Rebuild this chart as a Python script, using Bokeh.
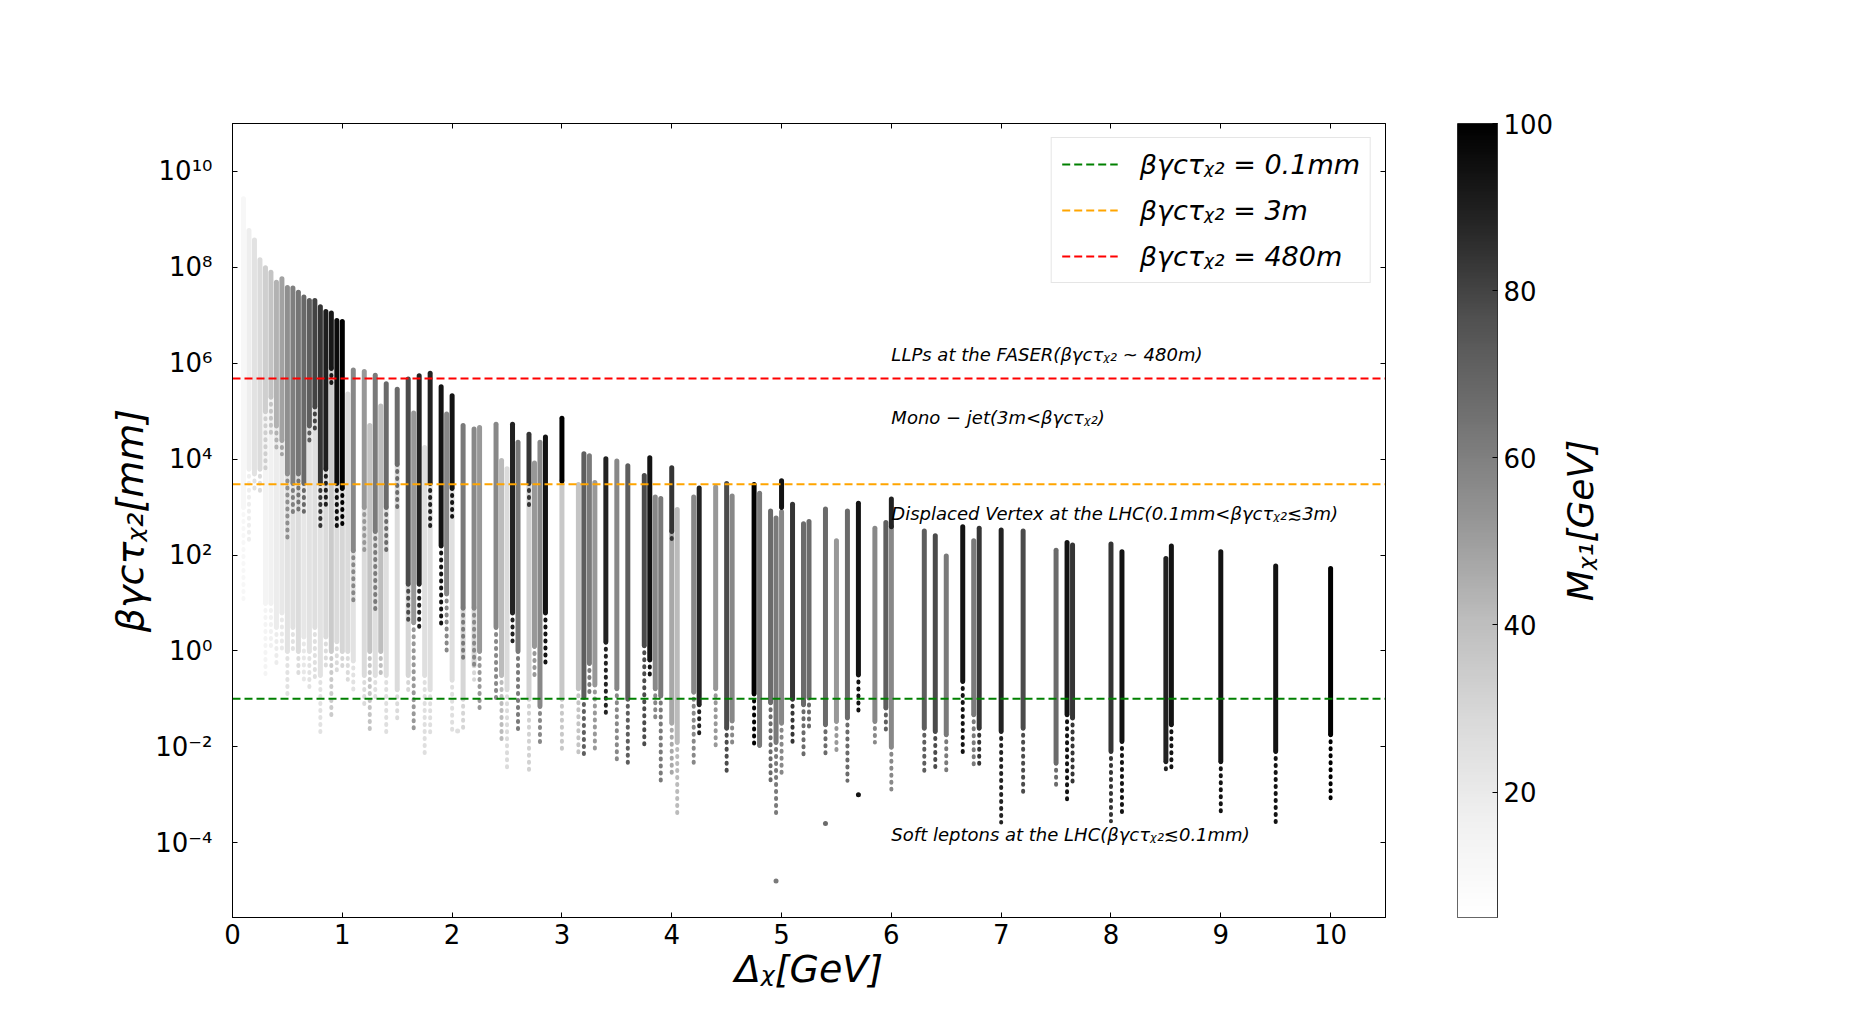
import math
import numpy as np
import pandas as pd
from bokeh.plotting import figure
from bokeh.layouts import row
from bokeh.models import (ColumnDataSource, LinearColorMapper, FixedTicker,
                          LinearAxis, LogAxis, CustomJSTickFormatter)
from bokeh.core.properties import value
from bokeh.palettes import Greys9
from bokeh.embed import file_html
from bokeh.resources import INLINE

# ---------------- data ----------------
# each entry: a column of points at one Δχ, dense from col_top to col_mid,
# sparse tail from col_mid to col_bot (log10 of βγcτ in mm), coloured by M_χ1
col_x = [0.10, 0.15, 0.20, 0.25, 0.30, 0.35, 0.40, 0.45, 0.50, 0.55, 0.60, 0.65, 0.70, 0.75, 0.80, 0.85, 0.90, 0.95, 1.00,
         0.30, 0.35, 0.40, 0.45, 0.50, 0.55, 0.60, 0.65, 0.70, 0.75, 0.80, 0.85, 0.90, 0.95, 1.00,
         1.05, 1.10, 1.10, 1.20, 1.20, 1.25, 1.30, 1.30, 1.35, 1.40, 1.40, 1.50, 1.50, 1.60, 1.60, 1.65, 1.70, 1.75,
         1.80, 1.80, 1.90, 1.95, 2.00, 2.00, 2.10, 2.10, 2.20, 2.20, 2.25, 2.40, 2.45, 2.50, 2.55, 2.60, 2.70, 2.70,
         2.75, 2.80, 2.85, 3.00, 3.00,
         3.15, 3.20, 3.25, 3.30, 3.40, 3.50, 3.60, 3.75, 3.80, 3.85, 3.90, 4.00, 4.00, 4.05, 4.20, 4.25, 4.40, 4.50,
         4.55, 4.75, 4.80, 4.90, 4.95, 5.00, 5.00, 5.10, 5.20, 5.25, 5.40, 5.50, 5.60, 5.70, 5.85, 5.95, 6.00, 6.00,
         6.30, 6.40, 6.50, 6.65, 6.75, 6.80, 7.00, 7.20, 7.50, 7.60, 7.65, 8.00, 8.10, 8.50, 8.55, 9.00, 9.50, 10.00]
col_top = [9.43, 8.77, 8.57, 8.16, 7.99, 7.90, 7.69, 7.76, 7.58, 7.57, 7.48, 7.38, 7.31, 7.31, 7.18, 7.08, 7.05, 6.89, 6.87,
           5.0, 5.3, 4.7, 4.4, 3.7, 3.5, 3.7, 3.5, 4.7, 5.1, 3.5, 3.8, 5.9, 3.5, 3.4,
           5.36, 5.86, 2.1, 5.83, 3.0, 4.70, 5.75, 2.5, 5.11, 5.57, 3.0, 5.46, 3.9, 5.67, 1.4, 4.96, 5.74, 4.24,
           5.79, 3.5, 5.51, 4.94, 5.32, 3.4, 4.70, 0.9, 4.63, 0.9, 4.66, 4.73, 3.97, 3.80, 4.73, 4.35, 4.52, 3.5,
           3.92, 4.35, 4.46, 4.85, 3.55,
           3.47, 4.11, 4.07, 3.51, 4.01, 3.96, 3.86, 3.66, 4.03, 3.21, 3.18, 3.82, 2.5, 2.95, 3.21, 3.40, 3.42, 3.49,
           3.23, 3.47, 3.29, 2.92, 2.77, 3.55, 2.9, 3.06, 2.65, 2.70, 2.96, 2.30, 2.92, 3.08, 2.56, 2.68, 3.17, 2.6,
           2.50, 2.40, 1.98, 2.59, 2.30, 2.56, 2.52, 2.50, 2.10, 2.26, 2.21, 2.23, 2.07, 1.93, 2.19, 2.07, 1.77, 1.72]
col_mid = [3.0, 3.8, 3.7, 3.8, 5.0, 5.3, 4.7, 4.4, 3.7, 3.5, 3.7, 3.5, 4.7, 5.1, 3.5, 3.8, 5.9, 3.5, 3.4,
           1.0, 1.0, 0.5, 0.8, 0.0, 0.5, 0.0, 0.3, 0.0, 0.5, -0.5, 0.3, 0.0, 0.2, 0.0,
           0.0, 2.1, -0.2, 3.0, -0.5, 0.0, 2.5, -0.5, 0.0, 3.0, -0.5, 3.9, -0.8, 1.4, -0.5, 0.6, 1.4, -0.5,
           3.5, -0.8, 2.2, 1.2, 3.4, -0.6, 0.9, -1.0, 0.9, -0.3, 0.0, 0.5, -0.5, -0.8, 0.8, 0.0, 3.5, -1.0,
           0.1, -1.15, 0.8, 3.55, -1.0,
           -0.78, -0.96, -0.25, -0.70, 0.19, -0.78, -1.0, 0.12, -0.18, -0.78, -0.93, 2.5, -1.5, -1.9, -0.85, -1.11, -0.78, -1.6,
           -1.45, -0.89, -1.96, -1.07, -1.9, 3.0, -1.5, -1.0, -1.11, -0.97, -1.53, -1.46, -1.39, -0.49, -1.46, -1.18, 2.6, -2.0,
           -1.6, -1.67, -1.74, -0.63, -1.32, -1.60, -1.67, -1.60, -2.33, -1.32, -1.39, -2.09, -1.88, -2.30, -1.53, -2.30, -2.09, -1.74]
col_bot = [1.0, 2.3, 3.3, 3.3, 3.7, 4.5, 4.2, 4.1, 2.3, 2.8, 2.9, 2.9, 4.3, 4.6, 2.5, 3.0, 5.5, 2.6, 2.6,
           -0.5, 0.0, -0.3, 0.0, -0.9, 0.0, -0.5, -0.6, -0.8, -0.6, -1.8, -0.4, -1.4, -0.5, -0.4,
           -0.6, 1.0, -0.9, 2.0, -1.2, -1.75, 0.8, -1.0, -0.5, 2.0, -1.7, 3.0, -1.5, 0.6, -0.9, -1.67, 0.5, -2.2,
           2.5, -1.8, 0.5, 0.0, 2.8, -1.7, -0.2, -1.7, -0.3, -0.6, -1.25, -1.0, -1.9, -2.45, 0.2, -1.67, 3.0, -2.6,
           -0.6, -2.0, -0.25, 3.5, -2.1,
           -2.23, -2.2, -0.92, -2.08, -1.37, -2.34, -2.4, -2.0, -0.55, -1.45, -2.79, 2.3, -2.6, -3.46, -2.34, -1.82, -2.08, -2.6,
           -2.0, -2.04, -2.0, -2.71, -3.4, 2.9, -2.64, -1.93, -2.26, -1.67, -2.16, -2.09, -2.71, -1.25, -1.91, -1.70, 2.5, -2.89,
           -2.54, -2.54, -2.54, -2.12, -2.40, -2.37, -3.58, -3.03, -2.82, -3.13, -2.82, -3.55, -3.41, -2.57, -2.51, -3.41, -3.69, -3.15]
col_mass = [12, 18, 24, 28, 33, 38, 44, 49, 55, 60, 64, 68, 72, 80, 84, 90, 92, 96, 100,
            14, 16, 19, 21, 24, 25, 27, 22, 24, 26, 24, 28, 35, 28, 30,
            28, 57, 24, 52, 28, 38, 62, 26, 40, 67, 26, 67, 28, 78, 30, 52, 89, 26,
            89, 26, 94, 57, 94, 26, 62, 30, 57, 30, 52, 57, 41, 28, 89, 62, 84, 32,
            52, 57, 94, 100, 36,
            38, 72, 62, 52, 89, 57, 72, 78, 94, 57, 62, 84, 47, 41, 57, 89, 52, 78,
            57, 100, 62, 67, 62, 94, 57, 84, 67, 67, 67, 52, 67, 94, 57, 72, 89, 57,
            72, 78, 62, 94, 62, 84, 89, 78, 67, 94, 84, 84, 94, 89, 94, 94, 94, 100]

# isolated points far below their columns
out_x = [4.95, 5.40, 5.70, 2.05]
out_logy = [-4.80, -3.60, -3.00, -1.67]
out_mass = [62, 67, 94, 26]

# threshold lines (mm) and their legend texts
thr_values = [0.1, 3000.0, 480000.0]
thr_colors = ["green", "orange", "red"]
thr_labels = ["βγcτᵪ₂ = 0.1mm", "βγcτᵪ₂ = 3m", "βγcτᵪ₂ = 480m"]

# region notes
note_x = [6.0, 6.0, 6.0, 6.0]
note_y = [1e6, 5e4, 500.0, 1e-4]
note_text = ["LLPs at the FASER(βγcτᵪ₂ ~ 480m)",
             "Mono − jet(3m<βγcτᵪ₂)",
             "Displaced Vertex at the LHC(0.1mm<βγcτᵪ₂≲3m)",
             "Soft leptons at the LHC(βγcτᵪ₂≲0.1mm)"]

x_ticks = [0, 1, 2, 3, 4, 5, 6, 7, 8, 9, 10]
y_tick_exps = [-4, -2, 0, 2, 4, 6, 8, 10]
cbar_ticks = [20, 40, 60, 80, 100]
mass_low, mass_high = 5.0, 100.0
x_lo, x_hi = 0.0, 10.5
y_lo_exp, y_hi_exp = -5.56, 11.0

# ---------------- palette (matplotlib-like Greys) ----------------
def build_palette(anchors, n):
    rgb = [tuple(int(a[i:i + 2], 16) for i in (1, 3, 5)) for a in anchors]
    out = []
    for k in range(n):
        t = k / (n - 1) * (len(rgb) - 1)
        j = min(int(t), len(rgb) - 2)
        f = t - j
        c = [round(rgb[j][m] + (rgb[j + 1][m] - rgb[j][m]) * f) for m in range(3)]
        out.append("#%02x%02x%02x" % tuple(c))
    return out

palette = build_palette(list(reversed(Greys9)), 256)
mapper = LinearColorMapper(palette=palette, low=mass_low, high=mass_high)

df = pd.DataFrame(dict(x=col_x, top=col_top, mid=col_mid, bot=col_bot, mass=col_mass))
df = df.sort_values("mass", kind="stable").reset_index(drop=True)
df["y_top"] = 10.0 ** df["top"]
df["y_mid"] = 10.0 ** df["mid"]
df["y_bot"] = 10.0 ** df["bot"]
src = ColumnDataSource(df)

out_src = ColumnDataSource(dict(x=out_x, y=[10.0 ** v for v in out_logy], mass=out_mass))

FONT = "DejaVu Sans"
FRAME_L, FRAME_T, FRAME_W, FRAME_H = 232, 123, 1153, 794
CANVAS_H = 1010
CB_GAP, CB_W = 72, 40

p = figure(x_range=(x_lo, x_hi), y_range=(10 ** y_lo_exp, 10 ** y_hi_exp), y_axis_type="log",
           frame_width=FRAME_W, frame_height=FRAME_H,
           min_border_left=FRAME_L, min_border_top=FRAME_T,
           min_border_bottom=CANVAS_H - FRAME_T - FRAME_H, min_border_right=CB_GAP,
           output_backend="svg", toolbar_location=None)
p.xgrid.visible = False
p.ygrid.visible = False
p.outline_line_color = "black"
p.outline_line_width = 1
p.background_fill_color = "white"
p.border_fill_color = "white"

cmap_field = {"field": "mass", "transform": mapper}

p.segment(x0="x", y0="y_top", x1="x", y1="y_mid", source=src, line_width=5,
          line_cap="round", line_color=cmap_field)
p.segment(x0="x", y0="y_mid", x1="x", y1="y_bot", source=src, line_width=4,
          line_cap="round", line_dash="1 6", line_color=cmap_field)
p.scatter(x="x", y="y", source=out_src, size=5, line_color=None, fill_color=cmap_field)

for v, c, lab in zip(thr_values, thr_colors, thr_labels):
    p.line(x=[x_lo, x_hi], y=[v, v], line_color=c, line_dash="8 4", line_width=2, legend_label=lab)

p.text(x=note_x, y=note_y, text=note_text, text_font=value(FONT), text_font_style="italic",
       text_font_size="18px", text_baseline="bottom", text_align="left", text_color="black",
       y_offset=2)

# axes
sup_code = """
const sup = {'-':'\u207b','0':'\u2070','1':'\u00b9','2':'\u00b2','3':'\u00b3','4':'\u2074',
             '5':'\u2075','6':'\u2076','7':'\u2077','8':'\u2078','9':'\u2079'};
const e = Math.round(Math.log10(tick));
return '10' + String(e).split('').map(c => sup[c]).join('');
"""
y_ticks = [10.0 ** e for e in y_tick_exps]

def style_axis(ax):
    ax.major_tick_in = 5
    ax.major_tick_out = 0
    ax.minor_tick_in = 0
    ax.minor_tick_out = 0
    ax.axis_line_color = "black"
    ax.major_tick_line_color = "black"
    ax.major_label_text_font = FONT
    ax.major_label_text_font_size = "26px"
    ax.major_label_text_color = "black"
    ax.axis_label_text_font = FONT
    ax.axis_label_text_font_size = "38px"
    ax.axis_label_text_font_style = "italic"
    ax.axis_label_text_color = "black"

xa = p.xaxis[0]
xa.ticker = FixedTicker(ticks=x_ticks)
xa.axis_label = "Δᵪ[GeV]"
style_axis(xa)
xa.major_label_standoff = 6
xa.axis_label_standoff = 0

ya = p.yaxis[0]
ya.ticker = FixedTicker(ticks=y_ticks)
ya.formatter = CustomJSTickFormatter(code=sup_code)
ya.axis_label = "βγcτᵪ₂[mm]"
style_axis(ya)
ya.major_label_standoff = 20
ya.axis_label_standoff = 0

top_ax = LinearAxis(ticker=FixedTicker(ticks=x_ticks), major_label_overrides={t: "" for t in x_ticks})
style_axis(top_ax)
top_ax.major_label_standoff = 0
p.add_layout(top_ax, "above")

right_ax = LogAxis(ticker=FixedTicker(ticks=y_ticks), formatter=CustomJSTickFormatter(code="return '';"))
style_axis(right_ax)
right_ax.major_label_standoff = 0
p.add_layout(right_ax, "right")

# legend
lg = p.legend[0]
lg.location = "top_right"
lg.margin = 14
lg.padding = 10
lg.spacing = 14
lg.label_height = 32
lg.glyph_height = 32
lg.glyph_width = 56
lg.label_standoff = 22
lg.label_text_font = FONT
lg.label_text_font_size = "27px"
lg.label_text_font_style = "italic"
lg.label_text_color = "black"
lg.border_line_color = "#cccccc"
lg.border_line_width = 1
lg.background_fill_alpha = 0.85

# ---------------- colour bar as its own narrow figure ----------------
cb = figure(x_range=(0, 1), y_range=(mass_low, mass_high),
            frame_width=CB_W, frame_height=FRAME_H,
            min_border_left=0, min_border_top=FRAME_T,
            min_border_bottom=CANVAS_H - FRAME_T - FRAME_H, min_border_right=54,
            x_axis_location=None, y_axis_location="right",
            output_backend="svg", toolbar_location=None)
cb.xgrid.visible = False
cb.ygrid.visible = False
cb.outline_line_color = "#333333"
cb.outline_line_width = 1
cb.border_fill_color = "white"
gradient = np.linspace(mass_low, mass_high, 256).reshape(256, 1)
cb.image(image=[gradient], x=0, y=mass_low, dw=1, dh=mass_high - mass_low, color_mapper=mapper)

cya = cb.yaxis[0]
cya.ticker = FixedTicker(ticks=cbar_ticks)
style_axis(cya)
cya.axis_line_color = "#333333"
cya.major_label_standoff = 6

# colour bar title: the label of a bare left axis on a 2-px-wide figure (reads upward, centred)
tl = figure(x_range=(0, 1), y_range=(mass_low, mass_high),
            frame_width=2, frame_height=FRAME_H,
            min_border_left=46, min_border_top=FRAME_T,
            min_border_bottom=CANVAS_H - FRAME_T - FRAME_H, min_border_right=0,
            x_axis_location=None, y_axis_location="left",
            output_backend="svg", toolbar_location=None)
tl.xgrid.visible = False
tl.ygrid.visible = False
tl.outline_line_color = None
tl.border_fill_color = "white"
tya = tl.yaxis[0]
tya.ticker = FixedTicker(ticks=[])
tya.axis_line_color = None
tya.major_tick_line_color = None
tya.minor_tick_line_color = None
tya.axis_label = "Mᵪ₁[GeV]"
tya.axis_label_text_font = FONT
tya.axis_label_text_font_size = "36px"
tya.axis_label_text_font_style = "italic"
tya.axis_label_text_color = "black"
tya.axis_label_standoff = 4

layout = row(p, cb, tl, spacing=0)
open("out.html", "w").write(file_html(layout, INLINE))
